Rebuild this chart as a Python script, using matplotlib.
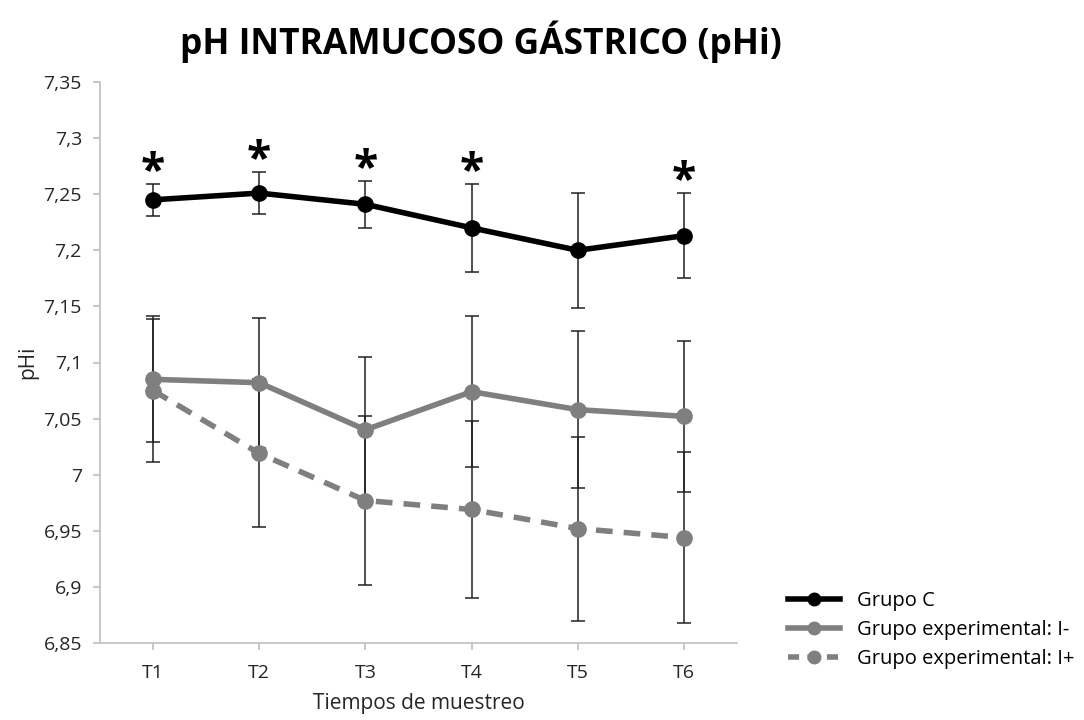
import matplotlib
matplotlib.use("Agg")
import matplotlib.pyplot as plt
from matplotlib.ticker import FuncFormatter, MultipleLocator
from matplotlib.lines import Line2D

plt.rcParams['font.family'] = ['Open Sans', 'DejaVu Sans']

times = ["T1", "T2", "T3", "T4", "T5", "T6"]
grupo_c = [7.245, 7.251, 7.241, 7.220, 7.200, 7.213]
grupo_c_err = [0.014, 0.019, 0.021, 0.039, 0.051, 0.038]
grupo_neg = [7.085, 7.082, 7.040, 7.074, 7.058, 7.052]
grupo_neg_err = [0.056, 0.058, 0.065, 0.067, 0.070, 0.067]
grupo_pos = [7.075, 7.019, 6.977, 6.969, 6.952, 6.944]
grupo_pos_err = [0.064, 0.066, 0.075, 0.079, 0.082, 0.076]
significant = [True, True, True, True, False, True]

labels = ["Grupo C", "Grupo experimental: I-", "Grupo experimental: I+"]
gray = "#7f7f7f"

fig = plt.figure(figsize=(10.84, 7.2), dpi=100)
ax = fig.add_axes([100/1084, 77/720, 637/1084, 561/720])

x = list(range(len(times)))
err_kw = dict(ecolor="#222222", elinewidth=1.1, capsize=5, capthick=1.1)

ax.errorbar(x, grupo_pos, yerr=grupo_pos_err, fmt='none', zorder=2, **err_kw)
ax.errorbar(x, grupo_neg, yerr=grupo_neg_err, fmt='none', zorder=2, **err_kw)
ax.errorbar(x, grupo_c, yerr=grupo_c_err, fmt='none', zorder=2, **err_kw)

ax.plot(x, grupo_pos, color=gray, lw=4, ls=(0, (3, 2)), marker='o', ms=11, zorder=3)
ax.plot(x, grupo_neg, color=gray, lw=4, marker='o', ms=11, zorder=3)
ax.plot(x, grupo_c, color='black', lw=4, marker='o', ms=11, zorder=4)

for xi, m, e, s in zip(x, grupo_c, grupo_c_err, significant):
    if s:
        ax.text(xi, m + e + 0.010, "*", ha='center', va='center', fontsize=32,
                fontweight='bold', color='black')

ax.set_xlim(-0.5, 5.5)
ax.set_ylim(6.85, 7.35)
ax.set_xticks(x)
ax.set_xticklabels(times)
ax.yaxis.set_major_locator(MultipleLocator(0.05))
ax.yaxis.set_major_formatter(FuncFormatter(lambda v, p: f"{round(v, 2):g}".replace('.', ',')))

for side in ['top', 'right']:
    ax.spines[side].set_visible(False)
for side in ['left', 'bottom']:
    ax.spines[side].set_color('#bfbfbf')
    ax.spines[side].set_linewidth(1.2)
ax.tick_params(axis='both', colors='#bfbfbf', labelcolor='#262626', length=5, width=1.2)
ax.tick_params(axis='y', pad=8, labelsize=14)
ax.tick_params(axis='x', pad=10, labelsize=14)

ax.set_xlabel("Tiempos de muestreo", fontsize=15, color='#262626', labelpad=8)
ax.set_ylabel("pHi", fontsize=15, color='#262626', labelpad=4)

fig.text(481/1084, 1 - 42/720, "pH INTRAMUCOSO GÁSTRICO (pHi)", ha='center', va='center',
         fontsize=25.5, fontweight='bold', color='black')

handles = [
    Line2D([], [], color='black', lw=4, marker='o', ms=9),
    Line2D([], [], color=gray, lw=4, marker='o', ms=9),
    Line2D([], [], color=gray, lw=4, ls=(0, (2, 1.5)), marker='o', ms=9),
]
fig.legend(handles, labels, loc='center left', bbox_to_anchor=(770/1084, 1 - 630/720),
           frameon=False, fontsize=14.5, handlelength=2.6, labelspacing=0.45, handletextpad=0.8)

fig.savefig("out.png", dpi=100)
